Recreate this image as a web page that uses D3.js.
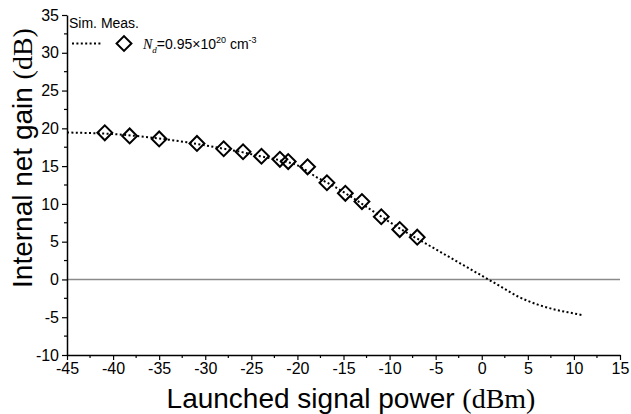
<!DOCTYPE html>
<html>
<head>
<meta charset="utf-8">
<script src="https://cdn.jsdelivr.net/npm/d3@7"></script>
<style>
  body { margin: 0; background: #fff; }
  svg { display: block; font-family: Arial, "Liberation Sans", sans-serif; }
</style>
</head>
<body>
<svg id="chart"></svg>
<script>
// simulated curve (dBm -> dB)
const simPower = [-45, -42, -40, -38, -36, -34, -32, -30, -28, -26, -24, -22, -20, -18, -16, -14, -12, -10, -8, -6, -4, -2, 0, 2, 4, 6, 8, 10, 11];
const simGain  = [19.45, 19.35, 19.25, 19.05, 18.8, 18.5, 18.15, 17.75, 17.3, 16.85, 16.3, 15.8, 15.1, 13.6, 12.3, 10.8, 9.2, 7.6, 6.1, 4.7, 3.3, 1.9, 0.5, -0.9, -2.3, -3.3, -4.0, -4.5, -4.75];

// measured points
const measPower = [-40.9, -38.2, -35.0, -30.9, -28.0, -25.9, -23.9, -21.9, -21.0, -18.9, -16.8, -14.8, -13.0, -10.9, -8.9, -7.0];
const measGain  = [19.4, 19.0, 18.6, 18.0, 17.3, 16.9, 16.3, 15.9, 15.6, 14.9, 12.8, 11.4, 10.3, 8.3, 6.6, 5.6];

const xTicks = [-45, -40, -35, -30, -25, -20, -15, -10, -5, 0, 5, 10, 15];
const yTicks = [-10, -5, 0, 5, 10, 15, 20, 25, 30, 35];

const width = 631, height = 414;
const margin = {top: 15, right: 11, bottom: 59, left: 67};

const svg = d3.select("#chart")
  .attr("width", width)
  .attr("height", height);

const x = d3.scaleLinear().domain([-45, 15]).range([margin.left, width - margin.right]);
const y = d3.scaleLinear().domain([-10, 35]).range([height - margin.bottom, margin.top]);

// zero line
svg.append("line")
  .attr("x1", x(-45)).attr("x2", x(15))
  .attr("y1", y(0)).attr("y2", y(0))
  .attr("stroke", "#8a8a8a")
  .attr("stroke-width", 1.5);

// minor ticks
const xMinor = d3.range(-42.5, 15, 5);
const yMinor = d3.range(-7.5, 35, 5);
svg.append("g")
  .selectAll("line")
  .data(xMinor)
  .join("line")
    .attr("x1", d => x(d)).attr("x2", d => x(d))
    .attr("y1", y(-10)).attr("y2", y(-10) + 3)
    .attr("stroke", "#000").attr("stroke-width", 1.2);
svg.append("g")
  .selectAll("line")
  .data(yMinor)
  .join("line")
    .attr("y1", d => y(d)).attr("y2", d => y(d))
    .attr("x1", x(-45)).attr("x2", x(-45) - 3)
    .attr("stroke", "#000").attr("stroke-width", 1.2);

// axes (plain hyphen for negatives)
const fmt = d => String(d);
const xAxis = svg.append("g")
  .attr("transform", `translate(0,${y(-10)})`)
  .call(d3.axisBottom(x).tickValues(xTicks).tickFormat(fmt).tickSize(5).tickPadding(3).tickSizeOuter(0));
const yAxis = svg.append("g")
  .attr("transform", `translate(${x(-45)},0)`)
  .call(d3.axisLeft(y).tickValues(yTicks).tickFormat(fmt).tickSize(5).tickPadding(3).tickSizeOuter(0));

[xAxis, yAxis].forEach(g => {
  g.select(".domain").attr("stroke", "#000").attr("stroke-width", 1.5);
  g.selectAll(".tick line").attr("stroke", "#000").attr("stroke-width", 1.2);
  g.selectAll(".tick text")
    .attr("fill", "#000")
    .style("font-size", "16px")
    .style("font-family", "Arial, 'Liberation Sans', sans-serif");
});

// simulated curve
const simData = simPower.map((p, i) => ({p, g: simGain[i]}));
svg.append("path")
  .datum(simData)
  .attr("fill", "none")
  .attr("stroke", "#000")
  .attr("stroke-width", 2)
  .attr("stroke-dasharray", "2,2.4")
  .attr("d", d3.line().curve(d3.curveMonotoneX).x(d => x(d.p)).y(d => y(d.g)));

// measured markers (rotated squares)
const diamond = d3.symbol().type(d3.symbolSquare).size(110);
const measData = measPower.map((p, i) => ({p, g: measGain[i]}));
svg.append("g")
  .selectAll("path")
  .data(measData)
  .join("path")
    .attr("d", diamond)
    .attr("transform", d => `translate(${x(d.p)},${y(d.g)}) rotate(45)`)
    .attr("fill", "none")
    .attr("stroke", "#000")
    .attr("stroke-width", 2);

// legend
const leg = svg.append("g");
leg.append("text")
  .attr("x", 69).attr("y", 28)
  .style("font-size", "14px")
  .text("Sim. Meas.");
leg.append("line")
  .attr("x1", 72).attr("x2", 102)
  .attr("y1", 43.5).attr("y2", 43.5)
  .attr("stroke", "#000").attr("stroke-width", 2)
  .attr("stroke-dasharray", "2,2.4");
leg.append("path")
  .attr("d", diamond)
  .attr("transform", "translate(124,43.5) rotate(45)")
  .attr("fill", "none").attr("stroke", "#000").attr("stroke-width", 2);
const lt = leg.append("text")
  .attr("x", 143).attr("y", 49)
  .style("font-size", "14px");
lt.append("tspan").style("font-family", "'Liberation Serif', 'Times New Roman', serif").style("font-style", "italic").text("N");
lt.append("tspan").attr("dy", 4).style("font-family", "'Liberation Serif', 'Times New Roman', serif").style("font-style", "italic").style("font-size", "9px").text("d");
lt.append("tspan").attr("dy", -4).text("=0.95×10");
lt.append("tspan").attr("dy", -6).style("font-size", "9px").text("20");
lt.append("tspan").attr("dy", 6).text(" cm");
lt.append("tspan").attr("dy", -6).style("font-size", "9px").text("-3");

// axis titles
const xt = svg.append("text")
  .attr("x", 351).attr("y", 408)
  .attr("text-anchor", "middle")
  .style("font-size", "28px");
xt.append("tspan").text("Launched signal power ");
xt.append("tspan").style("font-family", "'Liberation Serif', 'Times New Roman', serif").text("(dBm)");

const yt = svg.append("text")
  .attr("transform", "translate(32,158) rotate(-90)")
  .attr("text-anchor", "middle")
  .style("font-size", "28px");
yt.append("tspan").text("Internal net gain ");
yt.append("tspan").style("font-family", "'Liberation Serif', 'Times New Roman', serif").text("(dB)");
</script>
</body>
</html>
